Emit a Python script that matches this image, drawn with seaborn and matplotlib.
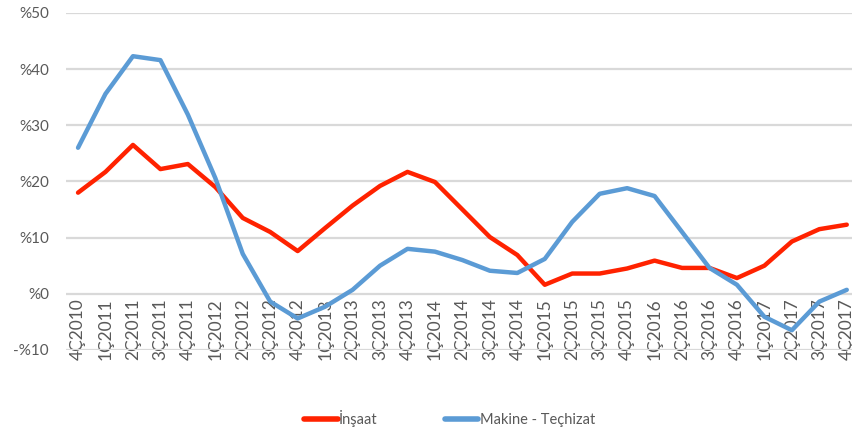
import pandas as pd
import matplotlib.pyplot as plt
import seaborn as sns

quarters = ['4Ç2010', '1Ç2011', '2Ç2011', '3Ç2011', '4Ç2011', '1Ç2012', '2Ç2012', '3Ç2012',
            '4Ç2012', '1Ç2013', '2Ç2013', '3Ç2013', '4Ç2013', '1Ç2014', '2Ç2014', '3Ç2014',
            '4Ç2014', '1Ç2015', '2Ç2015', '3Ç2015', '4Ç2015', '1Ç2016', '2Ç2016', '3Ç2016',
            '4Ç2016', '1Ç2017', '2Ç2017', '3Ç2017', '4Ç2017']

insaat = [18.0, 21.7, 26.5, 22.2, 23.1, 19.0, 13.5, 11.0, 7.6, 11.7, 15.7, 19.2, 21.7, 19.9,
          15.0, 10.1, 6.9, 1.6, 3.6, 3.6, 4.5, 5.9, 4.6, 4.6, 2.8, 5.0, 9.3, 11.5, 12.3]

makine = [26.0, 35.6, 42.3, 41.6, 31.9, 20.6, 7.1, -1.4, -4.4, -2.3, 0.7, 5.0, 8.0, 7.5,
          6.0, 4.1, 3.7, 6.2, 12.8, 17.8, 18.8, 17.4, 11.0, 4.6, 1.6, -4.1, -6.5, -1.4, 0.7]

y_ticks = [-10, 0, 10, 20, 30, 40, 50]
y_labels = ['-%10', '%0', '%10', '%20', '%30', '%40', '%50']

series_names = ['İnşaat', 'Makine - Teçhizat']
colors = {'İnşaat': '#FF2200', 'Makine - Teçhizat': '#5B9BD5'}

df = pd.DataFrame({
    'idx': list(range(len(quarters))) * 2,
    'value': insaat + makine,
    'series': [series_names[0]] * len(quarters) + [series_names[1]] * len(quarters),
})

sns.set_theme(style="white")
plt.rcParams['font.family'] = ['Lato', 'DejaVu Sans']

fig = plt.figure(figsize=(8.53, 4.32), dpi=100)
ax = fig.add_axes([0.077, 0.19, 0.935, 0.78])

sns.lineplot(data=df, x='idx', y='value', hue='series', palette=colors,
             linewidth=3.2, ax=ax, legend=False, zorder=3)

# x labels sit on the zero line, like the excel original
for s in ax.spines.values():
    s.set_visible(False)
ax.spines['bottom'].set_position(('data', 0))

ax.set_ylim(-10, 50)
ax.set_xlim(-0.45, 28.6)
ax.set_yticks(y_ticks)
ax.set_yticklabels(y_labels, color='#595959', fontsize=11)
ax.set_xticks(range(len(quarters)))
ax.set_xticklabels(quarters, rotation=90, color='#595959', fontsize=12.5, va='top')
ax.yaxis.grid(True, color='#D9D9D9', linewidth=1.6)
ax.set_axisbelow(True)
ax.tick_params(axis='both', length=0)
ax.tick_params(axis='x', pad=3)
ax.tick_params(axis='y', pad=12)
ax.set_xlabel('')
ax.set_ylabel('')

handles = [plt.Line2D([0], [0], color=colors[n], linewidth=4, solid_capstyle='round')
           for n in series_names]
fig.legend(handles, series_names, loc='center', bbox_to_anchor=(0.527, 0.032), ncol=2,
           frameon=False, fontsize=10.5, labelcolor='#595959', handlelength=2.3,
           handletextpad=0.1, columnspacing=4.6)

fig.savefig('out.png', dpi=100)
